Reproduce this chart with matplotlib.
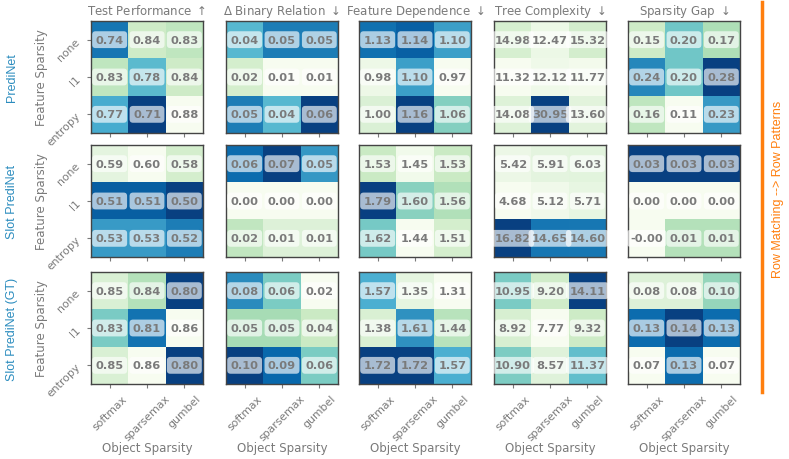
import matplotlib
matplotlib.use("Agg")
import matplotlib.pyplot as plt
import numpy as np

# data
models = ["PrediNet", "Slot PrediNet", "Slot PrediNet (GT)"]
metrics = [
    "Test Performance $\\uparrow$",
    "$\\Delta$ Binary Relation $\\downarrow$",
    "Feature Dependence $\\downarrow$",
    "Tree Complexity $\\downarrow$",
    "Sparsity Gap $\\downarrow$",
]
higher_better = [True, False, False, False, False]
feature_sparsity = ["none", "l1", "entropy"]
object_sparsity = ["softmax", "sparsemax", "gumbel"]

test_performance = [
    [[0.74, 0.84, 0.83], [0.83, 0.78, 0.84], [0.77, 0.71, 0.88]],
    [[0.59, 0.60, 0.58], [0.51, 0.51, 0.50], [0.53, 0.53, 0.52]],
    [[0.85, 0.84, 0.80], [0.83, 0.81, 0.86], [0.85, 0.86, 0.80]],
]
binary_relation = [
    [[0.04, 0.05, 0.05], [0.02, 0.01, 0.01], [0.05, 0.04, 0.06]],
    [[0.06, 0.07, 0.05], [0.00, 0.00, 0.00], [0.02, 0.01, 0.01]],
    [[0.08, 0.06, 0.02], [0.05, 0.05, 0.04], [0.10, 0.09, 0.06]],
]
feature_dependence = [
    [[1.13, 1.14, 1.10], [0.98, 1.10, 0.97], [1.00, 1.16, 1.06]],
    [[1.53, 1.45, 1.53], [1.79, 1.60, 1.56], [1.62, 1.44, 1.51]],
    [[1.57, 1.35, 1.31], [1.38, 1.61, 1.44], [1.72, 1.72, 1.57]],
]
tree_complexity = [
    [[14.98, 12.47, 15.32], [11.32, 12.12, 11.77], [14.08, 30.95, 13.60]],
    [[5.42, 5.91, 6.03], [4.68, 5.12, 5.71], [16.82, 14.65, 14.60]],
    [[10.95, 9.20, 14.11], [8.92, 7.77, 9.32], [10.90, 8.57, 11.37]],
]
sparsity_gap = [
    [[0.15, 0.20, 0.17], [0.24, 0.20, 0.28], [0.16, 0.11, 0.23]],
    [[0.03, 0.03, 0.03], [0.00, 0.00, 0.00], [-0.0, 0.01, 0.01]],
    [[0.08, 0.08, 0.10], [0.13, 0.14, 0.13], [0.07, 0.13, 0.07]],
]
all_metrics = [test_performance, binary_relation, feature_dependence,
               tree_complexity, sparsity_gap]

GRAY = "#7a7a7a"
BLUE = "#2b8cbe"
ORANGE = "#ff7f0e"

W, H = 789, 460
fig = plt.figure(figsize=(W / 100, H / 100), dpi=100)

col_left = [91, 226, 359, 494, 628]
row_top = [22, 146, 273]
size = 112

for r, model in enumerate(models):
    for c, metric in enumerate(metrics):
        x0 = col_left[c] / W
        y0 = 1 - (row_top[r] + size) / H
        ax = fig.add_axes([x0, y0, size / W, size / H])
        vals = np.array(all_metrics[c][r])
        cmap = "GnBu_r" if higher_better[c] else "GnBu"
        ax.imshow(vals, cmap=cmap, vmin=vals.min(), vmax=vals.max(),
                  aspect="auto")
        for i in range(3):
            for j in range(3):
                ax.text(j, i, f"{vals[i, j]:.2f}", ha="center", va="center",
                        fontsize=8.2, fontweight="bold", color=GRAY,
                        bbox=dict(boxstyle="round,pad=0.3", fc="white",
                                  ec="none", alpha=0.65))
        ax.set_xticks(range(3))
        ax.set_yticks(range(3))
        for s in ax.spines.values():
            s.set_color("#444444")
            s.set_linewidth(1.0)
        ax.tick_params(colors=GRAY, labelsize=7.8, length=3, width=0.8)
        if c == 0:
            ax.set_yticklabels(feature_sparsity, rotation=45)
            fig.text(41 / W, 1 - (row_top[r] + size / 2) / H,
                     "Feature Sparsity", color=GRAY, fontsize=8.5,
                     rotation=90, ha="center", va="center")
        else:
            ax.set_yticklabels([])
            ax.tick_params(axis="y", length=0)
        if r == 2:
            ax.set_xticklabels(object_sparsity, rotation=45)
            ax.set_xlabel("Object Sparsity", color=GRAY, fontsize=8.5,
                          labelpad=-1)
        else:
            ax.set_xticklabels([])
        if r == 0:
            ax.set_title(metric, color=GRAY, fontsize=8.5, pad=5)
    fig.text(12 / W, 1 - (row_top[r] + size / 2) / H, model, color=BLUE,
             fontsize=9, family="Liberation Sans", rotation=90,
             ha="center", va="center")

# orange bracket on the right
fig.add_artist(plt.Line2D([762 / W, 762 / W], [1 - 3 / H, 1 - 393 / H],
                          color=ORANGE, linewidth=2.5))
fig.text(778 / W, 1 - 189 / H, "Row Matching --> Row Patterns", color=ORANGE,
         fontsize=9, family="Liberation Sans", rotation=90,
         ha="center", va="center")

fig.savefig("out.png", dpi=100)
